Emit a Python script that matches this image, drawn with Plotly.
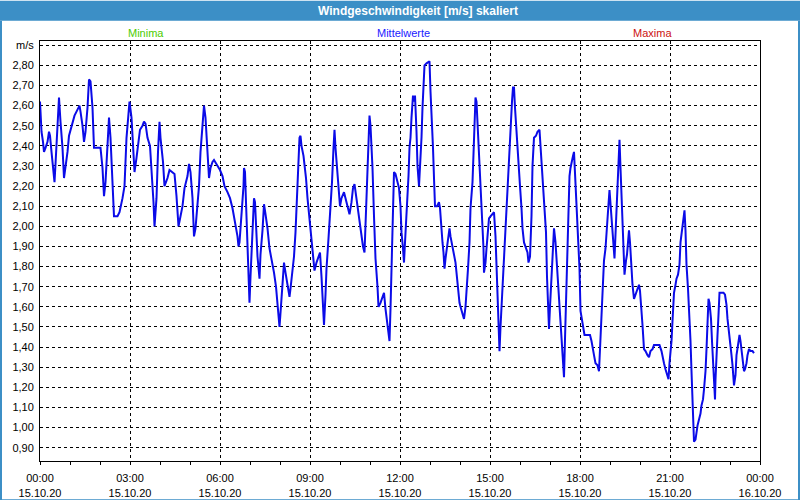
import pandas as pd
import plotly.graph_objects as go

# Minutes after 15.10.20 00:00 and the averaged wind speed (m/s).
minutes = [
    0, 1, 3, 6, 8, 11, 15, 18, 20, 23, 26, 29, 31, 35, 38, 41, 45, 48, 51, 55,
    58, 61, 66, 69, 75, 79, 81, 85, 88, 91, 95, 98, 101, 105, 108, 115, 121, 125, 128, 131,
    135, 138, 141, 145, 148, 155, 159, 165, 169, 173, 177, 179, 183, 186, 189, 193, 197, 200, 205, 208,
    211, 215, 220, 223, 227, 229, 233, 236, 239, 241, 246, 249, 255, 259, 265, 269, 273, 277, 281, 285,
    289, 295, 298, 301, 305, 308, 311, 315, 318, 321, 325, 328, 331, 335, 338, 341, 345, 348, 355,
    360, 365, 369, 375, 380, 385, 388, 391, 395, 397, 399, 401, 405, 407, 408, 410, 412, 415, 417, 419,
    421, 423, 425, 428, 430, 433, 435, 439, 441, 445, 448, 451, 455, 459, 463, 468, 472, 475, 479, 481,
    485, 488, 491, 495, 499, 501, 505, 508, 511, 515, 519, 521, 523, 527, 532, 535, 539, 543, 546, 549,
    553, 557, 560, 563, 566, 568, 571, 573, 577, 580, 584, 587, 589, 591, 595, 597, 600, 603, 608, 611,
    615, 619, 623, 626, 629, 633, 636, 639, 643, 646, 649, 651, 654, 657, 659, 661, 665, 668, 671, 675,
    677, 681, 685, 688, 691, 695, 697, 699, 701, 704, 707, 708, 711, 715,
    718, 721, 723, 726, 728, 730, 733, 735, 737, 739, 741, 743, 746, 748, 750, 753, 755, 758, 760, 763,
    765, 767, 769, 773, 777, 779, 781, 784, 786, 788, 790, 794, 798, 800, 802, 805, 807, 809, 811, 814,
    817, 819, 821, 825, 828, 831, 833, 836, 839, 841, 845, 848, 851, 853, 856, 859, 861, 865, 867, 869,
    871, 873, 875, 877, 879, 881, 883, 885, 887, 888, 891, 893, 895, 898, 901, 905, 908, 911, 913, 915,
    917, 919, 921, 924, 927, 929, 932, 935, 937, 940, 942, 944, 946, 948, 950, 952, 955, 957, 960, 963,
    965, 968, 971, 975, 977, 980, 983, 985, 988, 992, 995, 999, 1001, 1004, 1007, 1009, 1012, 1014, 1016, 1018,
    1020, 1023, 1025, 1028, 1031, 1033, 1036, 1039, 1041, 1043, 1045, 1048, 1050, 1052, 1055, 1056, 1059, 1061, 1063, 1066,
    1068, 1071, 1073, 1076, 1079,
    1081, 1084, 1087, 1089, 1095, 1100, 1103, 1105, 1108, 1111, 1115, 1118, 1120, 1122, 1124, 1127, 1128, 1131, 1133, 1135,
    1137, 1139, 1141, 1143, 1145, 1147, 1149, 1151, 1153, 1155, 1157, 1159, 1161, 1163, 1165, 1167, 1169, 1172, 1174, 1176,
    1178, 1180, 1183, 1185, 1188, 1191, 1195, 1198, 1200, 1203, 1205, 1208, 1211, 1215, 1218, 1221, 1225, 1228, 1235, 1239,
    1243, 1245, 1248, 1251, 1255, 1257, 1259, 1263, 1265, 1268, 1271, 1273, 1276, 1279, 1281, 1284, 1287, 1289, 1291, 1293,
    1296, 1299, 1301, 1303, 1305, 1307, 1308, 1311, 1313, 1315, 1318, 1321, 1323, 1326, 1328, 1331, 1333, 1335, 1337, 1339,
    1342, 1344, 1346, 1348, 1350, 1351, 1353, 1355, 1357, 1359, 1363, 1367, 1370, 1373, 1375, 1378, 1381, 1383, 1385, 1388,
    1391, 1393, 1396, 1399, 1401, 1403, 1405, 1408, 1410, 1413, 1415, 1418, 1421, 1425, 1428,
]
speed = [
    2.62, 2.52, 2.47, 2.42, 2.37, 2.39, 2.42, 2.47, 2.45, 2.37, 2.28, 2.22, 2.31, 2.47, 2.64, 2.52, 2.39, 2.24, 2.29, 2.37,
    2.45, 2.48, 2.52, 2.55, 2.58, 2.60, 2.57, 2.50, 2.42, 2.47, 2.59, 2.73, 2.72, 2.59, 2.39, 2.39, 2.39, 2.29, 2.15, 2.22,
    2.40, 2.54, 2.44, 2.22, 2.05, 2.05, 2.07, 2.14, 2.20, 2.44, 2.54, 2.62, 2.54, 2.37, 2.27, 2.34, 2.44, 2.48, 2.50, 2.52,
    2.51, 2.44, 2.40, 2.29, 2.12, 2.00, 2.14, 2.37, 2.52, 2.44, 2.32, 2.20, 2.24, 2.28, 2.27, 2.26, 2.15, 2.00, 2.05, 2.10,
    2.19, 2.25, 2.31, 2.27, 2.14, 1.95, 1.99, 2.10, 2.20, 2.37, 2.50, 2.60, 2.54, 2.39, 2.24, 2.29, 2.32, 2.33, 2.30,
    2.28, 2.25, 2.20, 2.17, 2.14, 2.09, 2.05, 2.00, 1.95, 1.90, 1.92, 1.99, 2.12, 2.20, 2.29, 2.27, 2.12, 1.89, 1.75, 1.62,
    1.75, 1.85, 1.94, 2.14, 2.12, 1.97, 1.85, 1.74, 1.86, 1.98, 2.11, 2.06, 1.99, 1.89, 1.84, 1.77, 1.70, 1.60, 1.50, 1.57,
    1.69, 1.82, 1.77, 1.70, 1.65, 1.69, 1.77, 1.85, 1.97, 2.17, 2.44, 2.45, 2.40, 2.35, 2.24, 2.14, 2.04, 1.94, 1.85, 1.78,
    1.82, 1.85, 1.87, 1.75, 1.59, 1.51, 1.66, 1.79, 1.94, 2.05, 2.22, 2.39, 2.48, 2.39, 2.27, 2.17, 2.10, 2.14, 2.17, 2.14,
    2.10, 2.06, 2.12, 2.19, 2.21, 2.14, 2.07, 2.01, 1.94, 1.90, 1.87, 2.00, 2.25, 2.42, 2.55, 2.50, 2.29, 2.05, 1.84, 1.70,
    1.60, 1.62, 1.65, 1.67, 1.59, 1.52, 1.49, 1.43, 1.59, 1.89, 2.14, 2.27, 2.26, 2.22,
    2.19, 2.10, 1.97, 1.89, 1.82, 1.92, 2.05, 2.14, 2.25, 2.39, 2.44, 2.54, 2.65, 2.62, 2.65, 2.47, 2.30, 2.20, 2.29, 2.44,
    2.59, 2.69, 2.80, 2.81, 2.82, 2.82, 2.67, 2.54, 2.39, 2.24, 2.10, 2.10, 2.12, 2.09, 2.00, 1.92, 1.87, 1.79, 1.84, 1.90,
    1.95, 1.99, 1.95, 1.90, 1.87, 1.82, 1.77, 1.67, 1.62, 1.60, 1.57, 1.54, 1.60, 1.70, 1.79, 1.92, 2.09, 2.22, 2.37, 2.50,
    2.64, 2.62, 2.52, 2.42, 2.30, 2.20, 2.09, 1.95, 1.89, 1.77, 1.82, 1.89, 1.97, 2.04, 2.05, 2.06, 2.07, 1.95, 1.82, 1.65,
    1.50, 1.38, 1.50, 1.65, 1.79, 1.92, 2.05, 2.19, 2.32, 2.42, 2.54, 2.62, 2.69, 2.69, 2.59, 2.50, 2.39, 2.30, 2.20, 2.09,
    1.99, 1.92, 1.90, 1.87, 1.82, 1.85, 2.05, 2.30, 2.44, 2.45, 2.47, 2.48, 2.40, 2.29, 2.17, 2.07, 1.97, 1.75, 1.60, 1.49,
    1.60, 1.75, 1.89, 1.99, 1.92, 1.84, 1.74, 1.65, 1.55, 1.44, 1.40, 1.25, 1.44, 1.62, 1.77, 1.99, 2.25, 2.29, 2.32, 2.35,
    2.37, 2.22, 2.09, 1.95, 1.79,
    1.58, 1.53, 1.48, 1.46, 1.46, 1.46, 1.43, 1.39, 1.36, 1.32, 1.31, 1.28, 1.39, 1.51, 1.61, 1.71, 1.83, 1.89, 1.98, 2.04,
    2.11, 2.18, 2.11, 2.04, 1.96, 1.88, 1.84, 1.96, 2.08, 2.19, 2.31, 2.43, 2.29, 2.14, 2.01, 1.88, 1.76, 1.83, 1.86, 1.92,
    1.98, 1.92, 1.79, 1.71, 1.64, 1.66, 1.69, 1.71, 1.68, 1.59, 1.51, 1.39, 1.38, 1.36, 1.35, 1.38, 1.39, 1.41, 1.41, 1.41,
    1.38, 1.35, 1.32, 1.29, 1.26, 1.24, 1.32, 1.43, 1.53, 1.67, 1.71, 1.74, 1.76, 1.81, 1.92, 1.98, 2.06, 2.08, 1.98, 1.81,
    1.69, 1.56, 1.43, 1.28, 1.16, 1.03, 0.93, 0.94, 0.98, 1.01, 1.04, 1.07, 1.11, 1.14, 1.19, 1.28, 1.39, 1.54, 1.64, 1.62,
    1.54, 1.43, 1.34, 1.24, 1.14, 1.24, 1.39, 1.46, 1.56, 1.67, 1.67, 1.67, 1.66, 1.61, 1.54, 1.48, 1.43, 1.36, 1.31, 1.21,
    1.26, 1.36, 1.41, 1.46, 1.43, 1.39, 1.34, 1.28, 1.29, 1.32, 1.36, 1.39, 1.38, 1.38, 1.37,
]

y_ticks = [0.9, 1.0, 1.1, 1.2, 1.3, 1.4, 1.5, 1.6, 1.7, 1.8, 1.9, 2.0,
           2.1, 2.2, 2.3, 2.4, 2.5, 2.6, 2.7, 2.8, 2.9]
y_labels = [f"{v:.2f}".replace(".", ",") for v in y_ticks[:-1]] + ["m/s"]

x_ticks = pd.date_range("2020-10-15 00:00", "2020-10-16 00:00", freq="3h")
x_labels = [t.strftime("%H:%M") + "<br>" + t.strftime("%d.%m.%y") for t in x_ticks]

times = pd.Timestamp("2020-10-15") + pd.to_timedelta(minutes, unit="m")

# the page comes out slightly squeezed vertically, so lay out on a taller canvas
W, H = 800, 511
sy = H / 500
L, R = 40, 40
T, B = round(40 * sy), round(40 * sy)
pw, ph = W - L - R, H - T - B
bar = "#3c8fc6"
font = "Liberation Sans, Arial, sans-serif"


def px_x(x):
    return (x - L) / pw


def px_y(y):
    # y given in 500-px reference units
    return (H - B - y * sy) / ph


fig = go.Figure()
fig.add_trace(go.Scatter(x=times, y=speed, mode="lines",
                         line=dict(color="#0b0be8", width=2), hoverinfo="x+y"))

fig.update_layout(
    width=W, height=H,
    margin=dict(l=L, r=R, t=T, b=B),
    paper_bgcolor="white", plot_bgcolor="white",
    showlegend=False,
    font=dict(family=font, size=11, color="black"),
)

fig.update_xaxes(
    type="date",
    range=["2020-10-15 00:00", "2020-10-16 00:00"],
    tickvals=x_ticks, ticktext=x_labels,
    ticks="outside", ticklen=3, tickcolor="black", ticklabelstandoff=4,
    showline=True, linecolor="black", linewidth=1, mirror=True,
    showgrid=True, gridcolor="black", gridwidth=1, griddash="3px,3px",
    minor=dict(dtick=3600000, ticks="outside", ticklen=3, tickcolor="black", showgrid=False),
    zeroline=False,
)
fig.update_yaxes(
    range=[0.834, 2.921],
    tickvals=y_ticks, ticktext=y_labels,
    ticks="", ticklabelstandoff=3,
    showline=True, linecolor="black", linewidth=1, mirror=True,
    showgrid=True, gridcolor="black", gridwidth=1, griddash="3px,3px",
    zeroline=False,
)

# window frame: title bar and thin border
shapes = [
    dict(type="rect", xref="paper", yref="paper", layer="below",
         x0=px_x(0), x1=px_x(W), y0=px_y(20), y1=px_y(0),
         fillcolor=bar, line=dict(width=0)),
    dict(type="rect", xref="paper", yref="paper", layer="below",
         x0=px_x(0), x1=px_x(2), y0=px_y(500), y1=px_y(20),
         fillcolor=bar, line=dict(width=0)),
    dict(type="rect", xref="paper", yref="paper", layer="below",
         x0=px_x(W - 2), x1=px_x(W), y0=px_y(500), y1=px_y(20),
         fillcolor=bar, line=dict(width=0)),
    dict(type="rect", xref="paper", yref="paper", layer="below",
         x0=px_x(0), x1=px_x(W), y0=px_y(500), y1=px_y(498),
         fillcolor=bar, line=dict(width=0)),
]
fig.update_layout(shapes=shapes)

fig.add_annotation(text="<b>Windgeschwindigkeit [m/s] skaliert</b>",
                   xref="paper", yref="paper", x=px_x(418), y=px_y(10),
                   xanchor="center", yanchor="middle",
                   showarrow=False, font=dict(family=font, size=12, color="white"))
for label, cx, col in [("Minima", 146, "#4ccc00"), ("Mittelwerte", 403, "#1a1aff"),
                       ("Maxima", 652, "#cc1010")]:
    fig.add_annotation(text=label, xref="paper", yref="paper", x=px_x(cx), y=px_y(32),
                       xanchor="center", yanchor="middle",
                       showarrow=False, font=dict(family=font, size=11, color=col))

# pin the chart to the top-left corner of the page, no scrolling
pin = """
document.documentElement.style.overflow = 'hidden';
document.body.style.margin = '0';
document.body.style.overflow = 'hidden';
var gd = document.getElementById('{plot_id}');
gd.style.position = 'fixed';
gd.style.left = '0px';
gd.style.top = '0px';
"""
fig.write_html("out.html", config={"displayModeBar": False}, post_script=pin)
